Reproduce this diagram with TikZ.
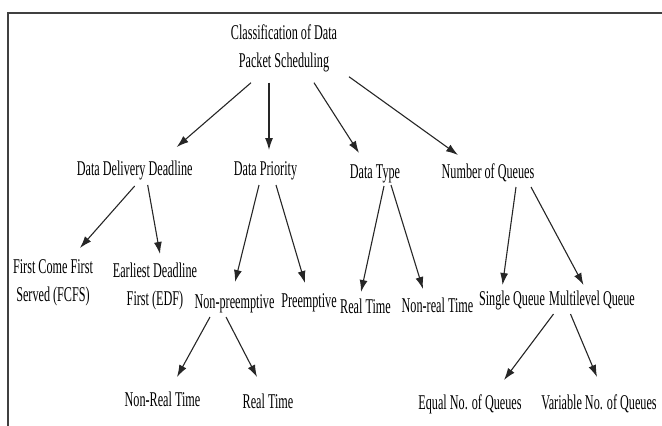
\documentclass[tikz,border=0pt]{standalone}
\usepackage{fontspec}
\setmainfont{Liberation Serif}[FakeStretch=0.58]
\usepackage{tikz}
\usetikzlibrary{arrows.meta,calc}

\begin{document}
\begin{tikzpicture}[x=1pt, y=-1pt,
    lbl/.style={inner sep=0pt, anchor=base, font=\fontsize{21}{28}\selectfont, text=black},
    lbl2/.style={lbl, align=center, anchor=north},
    arr/.style={-{Latex[length=12pt,width=8pt]}, line width=1.1pt, draw=black!85}
  ]
    \useasboundingbox (0,0) rectangle (662,426);
    \draw[line width=2pt, black!75] (8,426) -- (8,13) -- (662,13);

    \node[lbl2] (root) at (284,25) {Classification of Data\\Packet Scheduling};

    \node[lbl] (ddd) at (134.7,175) {Data Delivery Deadline};
    \node[lbl] (dp) at (265.5,175) {Data Priority};
    \node[lbl] (dt) at (375,178) {Data Type};
    \node[lbl] (noq) at (488,178) {Number of Queues};

    \node[lbl2] (fcfs) at (53,259) {First Come First\\Served (FCFS)};
    \node[lbl2] (edf) at (155,263) {Earliest Deadline\\First (EDF)};
    \node[lbl] (nonpre) at (234.5,308) {Non-preemptive};
    \node[lbl] (pre) at (309,307) {Preemptive};
    \node[lbl] (rtA) at (365.5,313) {Real Time};
    \node[lbl] (nrtA) at (437.5,312) {Non-real Time};
    \node[lbl] (single) at (512,305) {Single Queue};
    \node[lbl] (multi) at (592,305) {Multilevel Queue};

    \node[lbl] (nrtB) at (162.5,406) {Non-Real Time};
    \node[lbl] (rtB) at (268,408) {Real Time};
    \node[lbl] (equal) at (470,409) {Equal No. of Queues};
    \node[lbl] (var) at (599,409) {Variable No. of Queues};

    \draw[arr] ($(root.south)+(-33,10)$) -- ($(ddd.base)+(42,-28)$);
    \draw[arr] ($(root.south)+(-15,10)$) -- ($(dp.base)+(3.5,-25)$);
    \draw[arr] ($(root.south)+(30,10)$) -- ($(dt.base)+(-16,-25)$);
    \draw[arr] ($(root.south)+(65,4)$) -- ($(noq.base)+(-30,-23)$);

    \draw[arr] ($(ddd.base)+(0,11)$) -- ($(fcfs.north)+(27,-11)$);
    \draw[arr] ($(ddd.base)+(13,10)$) -- ($(edf.north)+(5,-9)$);
    \draw[arr] ($(dp.base)+(-6.5,10)$) -- ($(nonpre.base)+(0.5,-26)$);
    \draw[arr] ($(dp.base)+(10.5,10)$) -- ($(pre.base)+(-4,-24)$);
    \draw[arr] ($(dt.base)+(9,8)$) -- ($(rtA.base)+(-4.5,-21)$);
    \draw[arr] ($(dt.base)+(16,7)$) -- ($(nrtA.base)+(-14.5,-23)$);
    \draw[arr] ($(noq.base)+(28,9)$) -- ($(single.base)+(-9.5,-20)$);
    \draw[arr] ($(noq.base)+(43,9)$) -- ($(multi.base)+(-8.5,-20)$);

    \draw[arr] ($(nonpre.base)+(-24.5,9)$) -- ($(nrtB.base)+(14.5,-29)$);
    \draw[arr] ($(nonpre.base)+(-8.5,9)$) -- ($(rtB.base)+(-11,-31)$);
    \draw[arr] ($(multi.base)+(-38.5,9)$) -- ($(equal.base)+(34,-29)$);
    \draw[arr] ($(multi.base)+(-21.5,9)$) -- ($(var.base)+(-2,-32)$);
  \end{tikzpicture}
\end{document}
